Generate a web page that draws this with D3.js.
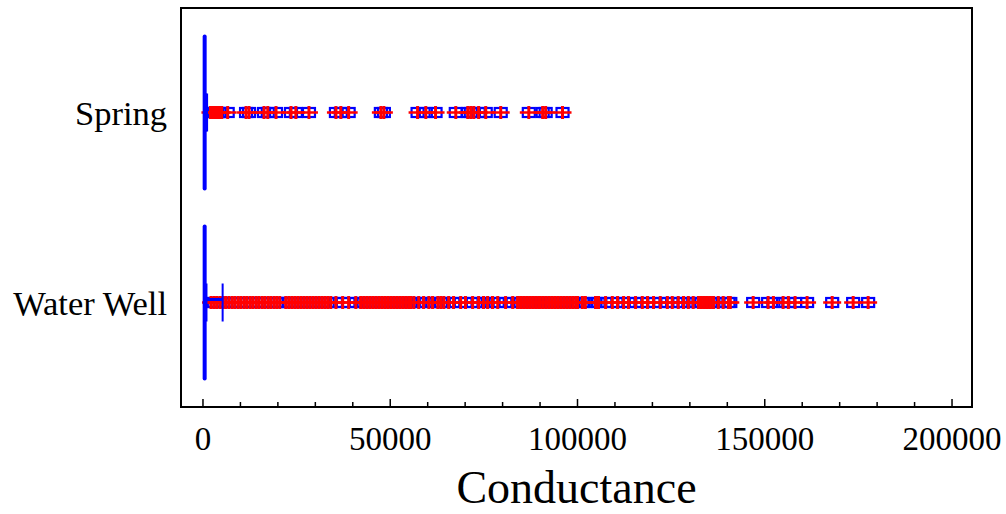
<!DOCTYPE html>
<html>
<head>
<meta charset="utf-8">
<script src="https://cdn.jsdelivr.net/npm/d3@7"></script>
<style>
body { margin: 0; background: #fff; }
text { font-family: "Liberation Serif", "Times New Roman", serif; }
</style>
</head>
<body>
<svg id="chart" width="1006" height="514"></svg>
<script>
// categorias y resumen de cajas
const categorias = ["Spring", "Water Well"];
const medianas = [450, 450];
const q1s = [100, 150];
const q3s = [1100, 1200];
const bigotes = [1100, 5250];

const ticksX = [0, 50000, 100000, 150000, 200000];

// valores atipicos
const atipicosSpring = [2000, 2600, 3200, 3800, 4400, 5000, 6600, 11500, 12300, 16300, 17300, 19500,
    23500, 24800, 28300, 35500, 36800, 38900, 47500, 48300, 57300, 59500, 62100, 67500,
    70700, 71500, 72300, 73600, 75500, 79500, 87000, 90700, 91500, 96000];

const atipicosPozo = [2150, 2900, 3650, 4500, 5300, 6050, 6900, 7750, 8500, 9350, 10100, 10950,
    11700, 12550, 13300, 14150, 14900, 15750, 16500, 17350, 18100, 18950, 19700, 20500,
    22100, 22900, 23700, 24500, 25300, 26100, 26900, 27700, 28500, 29300, 30100, 30900,
    31700, 32500, 33300, 34100, 35500, 37300, 38900, 40800, 42100, 42900, 43700, 44500,
    45300, 46100, 46900, 47700, 48500, 49300, 50100, 50900, 51700, 52500, 53300, 54100,
    54900, 55500, 56300, 57600, 58900, 60300, 61300, 62700, 63500, 64300, 65600, 66900,
    68800, 70100, 72000, 73600, 74900, 76000, 77300, 78700, 80800, 82700, 84000, 84800,
    85600, 86400, 87200, 88000, 88800, 89600, 90100, 90900, 91700, 92500, 93300, 94100,
    94900, 95700, 96500, 97300, 98100, 98900, 99700, 100000, 101300, 102100, 104800, 105600,
    107500, 109300, 110700, 112300, 113600, 115500, 117300, 118700, 120300, 122100, 124000, 125300,
    126900, 128300, 129600, 130900, 132300, 133100, 133900, 134700, 135500, 136300, 137600, 138900,
    140300, 140800, 146900, 150900, 152300, 154900, 156300, 158100, 161300, 168000, 173600, 177600];

const atipicos = [atipicosSpring, atipicosPozo];

const svg = d3.select("#chart");
const mIzq = 181, mDer = 972, mSup = 8, mInf = 407;
const azul = "#0000ff", rojo = "#ff0000";

const x = d3.scaleLinear()
    .domain([-5867, 205333])
    .range([mIzq, mDer]);

const y = d3.scalePoint()
    .domain(categorias)
    .range([mSup, mInf])
    .padding(0.55);

// marco
svg.append("rect")
    .attr("x", mIzq).attr("y", mSup)
    .attr("width", mDer - mIzq).attr("height", mInf - mSup)
    .attr("fill", "none").attr("stroke", "#000").attr("stroke-width", 2);

// ticks del eje X (hacia dentro)
const menores = d3.range(0, 200001, 10000);
svg.append("g").selectAll("line")
    .data(menores)
    .join("line")
    .attr("x1", d => x(d)).attr("x2", d => x(d))
    .attr("y1", mInf)
    .attr("y2", d => mInf - (d % 50000 === 0 ? 8 : 5))
    .attr("stroke", "#000").attr("stroke-width", 1.5);

svg.append("g").selectAll("text")
    .data(ticksX)
    .join("text")
    .attr("x", d => x(d))
    .attr("y", 450)
    .attr("text-anchor", "middle")
    .style("font-size", "33px")
    .text(d => d);

svg.append("text")
    .attr("x", (mIzq + mDer) / 2)
    .attr("y", 503)
    .attr("text-anchor", "middle")
    .style("font-size", "46px")
    .text("Conductance");

// etiquetas de categoria
svg.append("g").selectAll("text")
    .data(categorias)
    .join("text")
    .attr("x", 167)
    .attr("y", d => y(d) + 12)
    .attr("text-anchor", "end")
    .style("font-size", "34.5px")
    .text(d => d);

// atipicos: primero las cajitas azules, luego las cruces rojas
categorias.forEach((c, i) => {
    const cy = y(c);
    const g = svg.append("g");
    g.selectAll("rect")
        .data(atipicos[i])
        .join("rect")
        .attr("x", d => x(d) - 6)
        .attr("y", cy - 4.5)
        .attr("width", 12).attr("height", 9)
        .attr("fill", "none").attr("stroke", azul).attr("stroke-width", 2.2);
    g.selectAll("line.h")
        .data(atipicos[i])
        .join("line")
        .attr("class", "h")
        .attr("x1", d => x(d) - 9).attr("x2", d => x(d) + 9)
        .attr("y1", cy).attr("y2", cy)
        .attr("stroke", rojo).attr("stroke-width", 2.5);
    g.selectAll("line.v")
        .data(atipicos[i])
        .join("line")
        .attr("class", "v")
        .attr("x1", d => x(d)).attr("x2", d => x(d))
        .attr("y1", cy - 6.5).attr("y2", cy + 6.5)
        .attr("stroke", rojo).attr("stroke-width", 3);
});

// cajas y bigotes
categorias.forEach((c, i) => {
    const cy = y(c);
    const g = svg.append("g");
    g.append("line")
        .attr("x1", x(q3s[i])).attr("x2", x(bigotes[i]))
        .attr("y1", cy - 3).attr("y2", cy - 3)
        .attr("stroke", azul).attr("stroke-width", 3);
    g.append("line")
        .attr("x1", x(bigotes[i])).attr("x2", x(bigotes[i]))
        .attr("y1", cy - 19).attr("y2", cy + 19)
        .attr("stroke", azul).attr("stroke-width", 2);
    g.append("rect")
        .attr("x", x(q1s[i])).attr("y", cy - 19)
        .attr("width", x(q3s[i]) - x(q1s[i])).attr("height", 38)
        .attr("fill", azul);
    g.append("line")
        .attr("x1", x(medianas[i])).attr("x2", x(medianas[i]))
        .attr("y1", cy - 76).attr("y2", cy + 76)
        .attr("stroke", azul).attr("stroke-width", 4)
        .attr("stroke-linecap", "round");
});
</script>
</body>
</html>
